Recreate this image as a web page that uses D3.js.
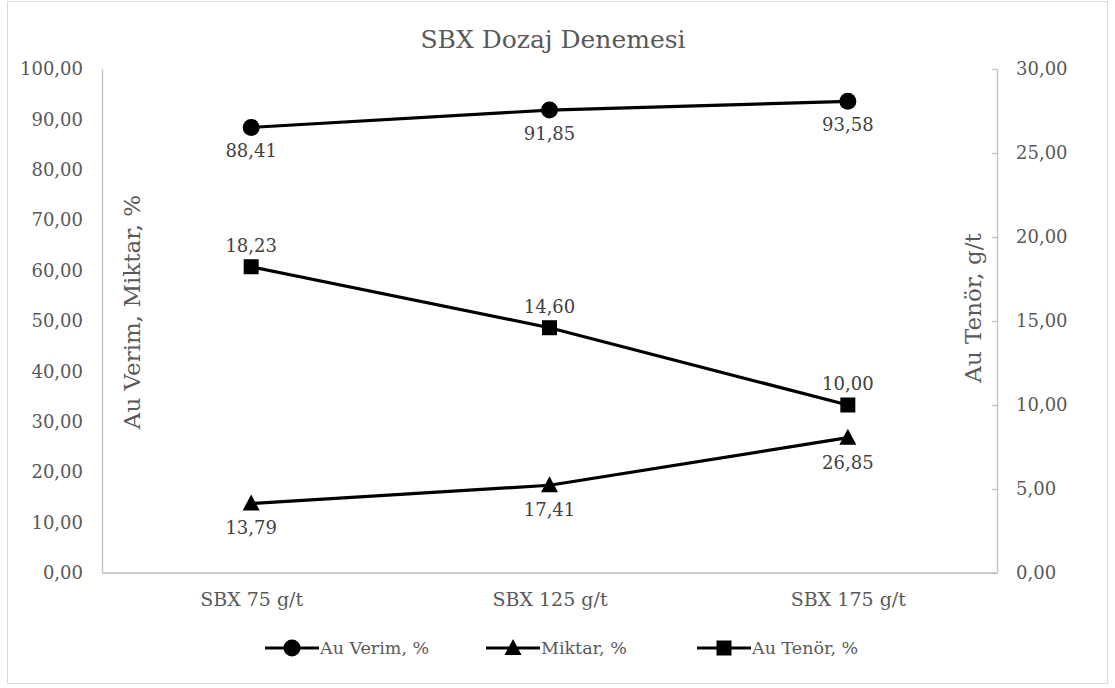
<!DOCTYPE html>
<html>
<head>
<meta charset="utf-8">
<script src="https://cdnjs.cloudflare.com/ajax/libs/d3/7.8.5/d3.min.js"></script>
<style>
  html, body { margin: 0; padding: 0; background: #fff; }
  svg { display: block; }
</style>
</head>
<body>
<svg id="chart" width="1115" height="688"></svg>
<script>
// Dosage trial data
const categories = ["SBX 75 g/t", "SBX 125 g/t", "SBX 175 g/t"];
const auVerim = [88.41, 91.85, 93.58];   // left axis, %
const miktar = [13.79, 17.41, 26.85];    // left axis, %
const auTenor = [18.23, 14.60, 10.00];   // right axis, g/t
const leftTicks = [0, 10, 20, 30, 40, 50, 60, 70, 80, 90, 100];
const rightTicks = [0, 5, 10, 15, 20, 25, 30];
const seriesNames = ["Au Verim, %", "Miktar, %", "Au Tenör, %"];

const FONT = "DejaVu Serif";
const fmt = v => v.toFixed(2).replace(".", ",");

const svg = d3.select("#chart");
const plot = { left: 102, right: 997, top: 69, bottom: 573 };

// chart frame
svg.append("rect")
  .attr("x", 7.5).attr("y", 1.5)
  .attr("width", 1100).attr("height", 682)
  .attr("fill", "#fff").attr("stroke", "#d9d9d9").attr("stroke-width", 1);

const x = d3.scalePoint().domain(categories)
  .range([plot.left, plot.right]).padding(0.5);
const yL = d3.scaleLinear().domain([0, 100]).range([plot.bottom, plot.top]);
const yR = d3.scaleLinear().domain([0, 30]).range([plot.bottom, plot.top]);

function styleText(sel, size, color) {
  sel.attr("font-family", FONT).style("font-family", FONT)
    .style("font-size", size + "px").attr("fill", color);
}

// title
styleText(svg.append("text")
  .attr("x", 553).attr("y", 48)
  .attr("text-anchor", "middle")
  .text("SBX Dozaj Denemesi"), 25, "#595959");

// left axis
const axL = svg.append("g")
  .attr("transform", `translate(${plot.left},0)`)
  .call(d3.axisLeft(yL).tickValues(leftTicks).tickFormat(fmt).tickSize(0).tickPadding(19));
axL.attr("font-family", null);
axL.select(".domain").attr("stroke", "#bfbfbf").attr("stroke-width", 1.3);
styleText(axL.selectAll("text"), 18, "#595959");

// right axis
const axR = svg.append("g")
  .attr("transform", `translate(${plot.right},0)`)
  .call(d3.axisRight(yR).tickValues(rightTicks).tickFormat(fmt).tickSizeInner(-5).tickSizeOuter(0).tickPadding(19));
axR.attr("font-family", null);
axR.select(".domain").attr("stroke", "#bfbfbf").attr("stroke-width", 1.3);
axR.selectAll(".tick line").attr("stroke", "#bfbfbf").attr("stroke-width", 1.3);
styleText(axR.selectAll("text"), 18, "#595959");

// bottom axis
const axB = svg.append("g")
  .attr("transform", `translate(0,${plot.bottom})`)
  .call(d3.axisBottom(x).tickSize(0).tickPadding(20));
axB.attr("font-family", null);
axB.select(".domain").attr("stroke", "#bfbfbf").attr("stroke-width", 1.3)
  .attr("d", `M${plot.left},0H${plot.right}`);
styleText(axB.selectAll("text"), 19, "#595959");

// axis titles
styleText(svg.append("text")
  .attr("transform", "translate(140,312) rotate(-90)")
  .attr("text-anchor", "middle")
  .text("Au Verim, Miktar, %"), 23, "#595959");
styleText(svg.append("text")
  .attr("transform", "translate(981,308) rotate(-90)")
  .attr("text-anchor", "middle")
  .text("Au Tenör, g/t"), 23, "#595959");

const line = d3.line();

function marker(g, shape, cx, cy) {
  if (shape === "circle") {
    g.append("circle").attr("cx", cx).attr("cy", cy).attr("r", 8.5).attr("fill", "#000");
  } else if (shape === "square") {
    g.append("rect").attr("x", cx - 7.5).attr("y", cy - 7.5).attr("width", 15).attr("height", 15).attr("fill", "#000");
  } else {
    g.append("path")
      .attr("d", `M${cx},${cy - 9}L${cx + 8.5},${cy + 7}L${cx - 8.5},${cy + 7}Z`)
      .attr("fill", "#000");
  }
}

const series = [
  { values: auVerim, scale: yL, shape: "circle", labelDy: 30 },
  { values: miktar, scale: yL, shape: "triangle", labelDy: 31 },
  { values: auTenor, scale: yR, shape: "square", labelDy: -15 }
];

series.forEach(s => {
  const pts = s.values.map((v, i) => [x(categories[i]), s.scale(v)]);
  svg.append("path")
    .attr("d", line(pts))
    .attr("fill", "none").attr("stroke", "#000")
    .attr("stroke-width", 3.2).attr("stroke-linejoin", "round");
  const g = svg.append("g");
  pts.forEach(p => marker(g, s.shape, p[0], p[1]));
  styleText(svg.append("g").selectAll("text")
    .data(s.values)
    .join("text")
    .attr("x", (d, i) => x(categories[i]))
    .attr("y", d => s.scale(d) + s.labelDy)
    .attr("text-anchor", "middle")
    .text(fmt), 18, "#404040");
});

// legend
const legendItems = [
  { name: seriesNames[0], shape: "circle", x0: 265 },
  { name: seriesNames[1], shape: "triangle", x0: 486 },
  { name: seriesNames[2], shape: "square", x0: 697 }
];
const ly = 648;
legendItems.forEach(it => {
  const g = svg.append("g");
  g.append("line")
    .attr("x1", it.x0).attr("x2", it.x0 + 54)
    .attr("y1", ly).attr("y2", ly)
    .attr("stroke", "#000").attr("stroke-width", 3.2);
  marker(g, it.shape, it.x0 + 27, ly);
  styleText(g.append("text")
    .attr("x", it.x0 + 55).attr("y", ly + 6)
    .text(it.name), 17.5, "#595959");
});
</script>
</body>
</html>
